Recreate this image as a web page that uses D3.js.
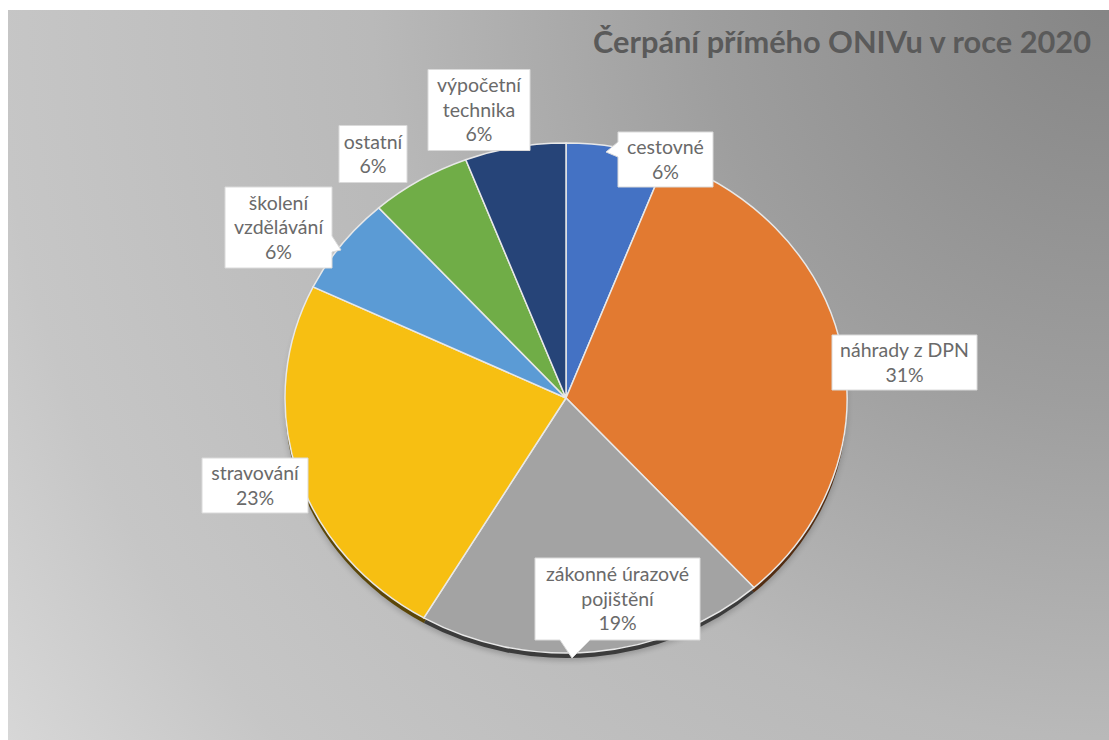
<!DOCTYPE html>
<html>
<head>
<meta charset="utf-8">
<script src="https://cdn.jsdelivr.net/npm/d3@7/dist/d3.min.js"></script>
<style>
html,body{margin:0;padding:0;background:#fff;}
svg{display:block;}
</style>
</head>
<body>
<svg id="chart" width="1109" height="740"></svg>
<script>
// ---- data ----
const categories = ["cestovné", "náhrady z DPN", "zákonné úrazové pojištění", "stravování", "školení vzdělávání", "ostatní", "výpočetní technika"];
// shares in % (labels round them to whole percent)
const values = [5.6, 31.4, 19.4, 22.9, 6.0, 5.6, 5.6];
const labelLines = [["cestovné"], ["náhrady z DPN"], ["zákonné úrazové", "pojištění"], ["stravování"], ["školení", "vzdělávání"], ["ostatní"], ["výpočetní", "technika"]];
const colors = ["#4472C4", "#E27A31", "#A3A3A3", "#F7BF12", "#5B9BD5", "#70AD47", "#264478"];
const title = "Čerpání přímého ONIVu v roce 2020";

// ---- layout ----
const W = 1109, H = 740;
const cx = 566, cy = 398, rx = 281, ry = 255, depth = 5;
const labelBoxes = [
  {x: 665.5, y: 159.5, w: 95,  h: 55, ptr: {side: "left",  a: 142, b: 157, tip: [606, 152]}},
  {x: 904.5, y: 362.5, w: 145, h: 55},
  {x: 617.5, y: 599,   w: 165, h: 82, ptr: {side: "bottom", a: 560, b: 590, tip: [572, 658]}},
  {x: 255,   y: 485.5, w: 106, h: 55},
  {x: 278.5, y: 227.5, w: 107, h: 81, ptr: {side: "right", a: 236, b: 252, tip: [341, 250]}},
  {x: 373,   y: 154,   w: 68,  h: 57},
  {x: 479,   y: 110,   w: 102, h: 81}
];

const svg = d3.select("#chart");
const defs = svg.append("defs");

const rg = defs.append("radialGradient").attr("id", "bg")
  .attr("gradientUnits", "userSpaceOnUse")
  .attr("cx", W).attr("cy", 0).attr("r", 1340).attr("fx", W).attr("fy", 0);
[[0, "#858585"], [0.3, "#9e9e9e"], [0.55, "#b9b9b9"], [0.83, "#c6c6c6"], [1, "#d8d8d8"]]
  .forEach(([o, c]) => rg.append("stop").attr("offset", o).attr("stop-color", c));

const blur = defs.append("filter").attr("id", "soft").attr("x", "-10%").attr("y", "-10%").attr("width", "120%").attr("height", "120%");
blur.append("feGaussianBlur").attr("stdDeviation", 3);

svg.append("rect").attr("x", 0).attr("y", 0).attr("width", W).attr("height", H).attr("fill", "#fff");
svg.append("rect").attr("x", 8).attr("y", 10).attr("width", W - 8).attr("height", H - 10).attr("fill", "url(#bg)");

const titleText = svg.append("text")
  .attr("x", 1091).attr("y", 53)
  .attr("text-anchor", "end")
  .attr("font-family", "Lato, 'Open Sans', sans-serif")
  .attr("font-weight", "bold")
  .attr("font-size", 27)
  .attr("fill", "#5a5a5a")
  .text(title);
{
  const target = 498;
  const w = titleText.node().getComputedTextLength();
  titleText.attr("font-size", 27 * target / w);
}

const pie = d3.pie().value(d => d).sort(null).startAngle(0).endAngle(2 * Math.PI);
const arcs = pie(values);
const arc = d3.arc().innerRadius(0).outerRadius(rx);
const fullArc = d3.arc().innerRadius(0).outerRadius(rx).startAngle(0).endAngle(2 * Math.PI);

svg.append("g").attr("transform", `translate(${cx},${cy + depth + 3}) scale(1,${ry / rx})`)
  .append("path").attr("d", fullArc()).attr("fill", "#000").attr("opacity", 0.18).attr("filter", "url(#soft)");

const sideG = svg.append("g").attr("transform", `translate(${cx},${cy + depth}) scale(1,${ry / rx})`);
sideG.selectAll("path").data(arcs).join("path")
  .attr("d", arc)
  .attr("fill", (d, i) => d3.color(colors[i]).darker(2.8));

const topG = svg.append("g").attr("transform", `translate(${cx},${cy}) scale(1,${ry / rx})`);
topG.selectAll("path").data(arcs).join("path")
  .attr("d", arc)
  .attr("fill", (d, i) => colors[i])
  .attr("stroke", "#e8e8e8")
  .attr("stroke-width", 1.5)
  .attr("vector-effect", "non-scaling-stroke");

const lg = svg.append("g");
arcs.forEach((d, i) => {
  const b = labelBoxes[i];
  const g = lg.append("g");
  const x0 = b.x - b.w / 2, y0 = b.y - b.h / 2, x1 = b.x + b.w / 2, y1 = b.y + b.h / 2;
  let p = `M${x0},${y0} L${x1},${y0}`;
  if (b.ptr && b.ptr.side === "right") {
    p += ` L${x1},${b.ptr.a} L${b.ptr.tip[0]},${b.ptr.tip[1]} L${x1},${b.ptr.b}`;
  }
  p += ` L${x1},${y1}`;
  if (b.ptr && b.ptr.side === "bottom") {
    p += ` L${b.ptr.b},${y1} L${b.ptr.tip[0]},${b.ptr.tip[1]} L${b.ptr.a},${y1}`;
  }
  p += ` L${x0},${y1}`;
  if (b.ptr && b.ptr.side === "left") {
    p += ` L${x0},${b.ptr.b} L${b.ptr.tip[0]},${b.ptr.tip[1]} L${x0},${b.ptr.a}`;
  }
  p += " Z";
  g.append("path").attr("d", p).attr("fill", "#fff").attr("stroke", "#dadada").attr("stroke-width", 1);
  const lines = labelLines[i].concat([Math.round(values[i]) + "%"]);
  const lh = 24.5;
  const startY = b.y - (lines.length - 1) * lh / 2;
  lines.forEach((t, k) => {
    g.append("text")
      .attr("x", b.x).attr("y", startY + k * lh)
      .attr("dy", "0.35em")
      .attr("text-anchor", "middle")
      .attr("font-family", "Lato, 'Open Sans', sans-serif")
      .attr("font-size", 19.5)
      .attr("fill", "#6a6a6a")
      .text(t);
  });
});
</script>
</body>
</html>
